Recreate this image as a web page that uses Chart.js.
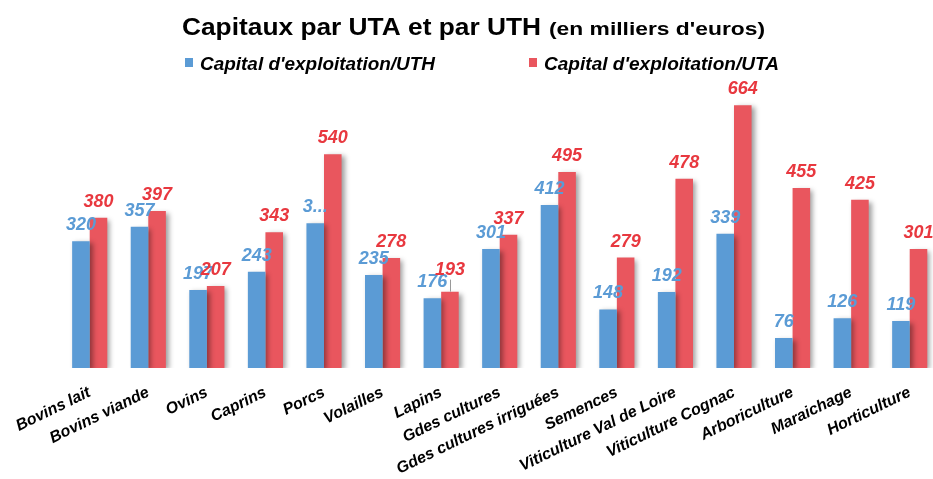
<!DOCTYPE html>
<html><head><meta charset="utf-8">
<script src="https://cdn.jsdelivr.net/npm/chart.js@4.4.0/dist/chart.umd.min.js"></script>
<style>
html,body{margin:0;padding:0;background:#fff;overflow:hidden;width:933px;height:479px}
#wrap{position:absolute;left:0;top:0;width:945px;height:479px}
</style>
</head><body><div id="wrap"><canvas id="c"></canvas></div>
<script>
const categories = ['Bovins lait','Bovins viande','Ovins','Caprins','Porcs','Volailles','Lapins','Gdes cultures','Gdes cultures irriguées','Semences','Viticulture Val de Loire','Viticulture Cognac','Arboriculture','Maraichage','Horticulture'];
const uthValues = [320,357,197,243,366,235,176,301,412,148,192,339,76,126,119];
const utaValues = [380,397,207,343,540,278,193,337,495,279,478,664,455,425,301];
const seriesNames = ["Capital d'exploitation/UTH","Capital d'exploitation/UTA"];
const titleMain = 'Capitaux par UTA et par UTH';
const titleSub = "(en milliers d'euros)";
const uthLabelText = uthValues.map(v => String(v));
uthLabelText[4] = '3...';
const utaLabelText = utaValues.map(v => String(v));

const FONT = "'Liberation Sans', Arial, sans-serif";
const barColors = ['#5B9BD5', '#E9565E'];
const labelColors = ['#5B9BD5', '#E8383F'];

function stretchedText(ctx, text, x, y, targetWidth) {
  const w = ctx.measureText(text).width;
  const s = targetWidth / w;
  ctx.save();
  ctx.translate(x, y);
  ctx.scale(s, 1);
  ctx.fillText(text, 0, 0);
  ctx.restore();
}

const effects = {
  id: 'effects',
  beforeDatasetsDraw(chart) {
    const ctx = chart.ctx;
    ctx.save();
    ctx.shadowColor = 'rgba(0,0,0,0.38)';
    ctx.shadowOffsetX = 3;
    ctx.shadowOffsetY = 2;
    ctx.shadowBlur = 5;
  },
  afterDatasetsDraw(chart) {
    const ctx = chart.ctx;
    ctx.restore();
    ctx.save();
    ctx.font = 'italic bold 18px ' + FONT;
    ctx.textAlign = 'center';
    ctx.textBaseline = 'alphabetic';
    const texts = [uthLabelText, utaLabelText];
    chart.data.datasets.forEach((ds, di) => {
      const meta = chart.getDatasetMeta(di);
      meta.data.forEach((bar, i) => {
        let extra = 0;
        if (di === 1 && i === 6) {
          extra = 6;
          ctx.strokeStyle = '#999';
          ctx.lineWidth = 1;
          ctx.beginPath();
          ctx.moveTo(Math.round(bar.x) + 0.5, bar.y - 12);
          ctx.lineTo(Math.round(bar.x) + 0.5, bar.y);
          ctx.stroke();
        }
        ctx.fillStyle = labelColors[di];
        ctx.fillText(texts[di][i], bar.x, bar.y - 11 - extra);
      });
    });
    ctx.restore();
  },
  afterDraw(chart) {
    const ctx = chart.ctx;
    ctx.save();
    ctx.fillStyle = '#000';
    ctx.textBaseline = 'alphabetic';
    ctx.textAlign = 'left';
    ctx.font = 'bold 24px ' + FONT;
    stretchedText(ctx, titleMain, 182, 35, 359);
    ctx.font = 'bold 19px ' + FONT;
    stretchedText(ctx, titleSub, 549, 35, 216);
    // legend
    ctx.font = 'italic bold 18px ' + FONT;
    const items = chart.data.datasets.map(d => d.label);
    const starts = [185, 529];
    items.forEach((t, i) => {
      ctx.fillStyle = barColors[i];
      ctx.fillRect(starts[i], 58, 8, 9);
      ctx.fillStyle = '#000';
      stretchedText(ctx, t, starts[i] + 15, 70, 235);
    });
    ctx.restore();
  }
};

new Chart(document.getElementById('c'), {
  type: 'bar',
  data: {
    labels: categories,
    datasets: [
      { label: seriesNames[0], data: uthValues, backgroundColor: barColors[0], borderWidth: 0, barPercentage: 1, categoryPercentage: 0.6 },
      { label: seriesNames[1], data: utaValues, backgroundColor: barColors[1], borderWidth: 0, barPercentage: 1, categoryPercentage: 0.6 }
    ]
  },
  options: {
    responsive: true,
    maintainAspectRatio: false,
    animation: false,
    layout: { padding: { top: 91, left: 60, right: 6, bottom: 0 } },
    plugins: { legend: { display: false }, title: { display: false }, tooltip: { enabled: false } },
    scales: {
      x: {
        grid: { display: false, drawTicks: false },
        border: { display: false },
        ticks: {
          minRotation: 26, maxRotation: 26, padding: 15, autoSkip: false,
          color: '#000', font: { family: FONT, size: 16, style: 'italic', weight: 'bold' }
        },
        afterFit(scale) { scale.height = 111; }
      },
      y: { display: false, min: 0, max: 700 }
    }
  },
  plugins: [effects]
});
</script>
</body></html>
